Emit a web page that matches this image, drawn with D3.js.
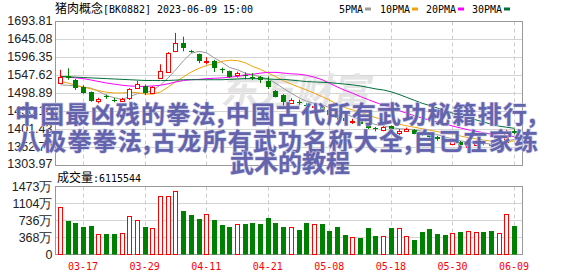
<!DOCTYPE html>
<html><head><meta charset="utf-8">
<script src="https://cdn.jsdelivr.net/npm/d3@7"></script>
<style>
html,body{margin:0;padding:0;background:#fff;}
svg{display:block;}
</style></head>
<body>
<svg id="c" width="578" height="276"></svg>
<script>
// ---------------- DATA ----------------
const dates = ["03-14","03-15","03-16","03-17","03-20","03-21","03-22","03-23","03-24","03-27","03-28","03-29","03-30","03-31",
"04-03","04-04","04-06","04-07","04-10","04-11","04-12","04-13","04-14","04-17","04-18","04-19","04-20","04-21","04-24","04-25","04-26","04-27","04-28",
"05-04","05-05","05-08","05-09","05-10","05-11","05-12","05-15","05-16","05-17","05-18","05-19","05-22","05-23","05-24","05-25","05-26","05-29","05-30","05-31",
"06-01","06-02","06-05","06-06","06-07","06-08","06-09"];
const opens  = [1528,1545,1535,1517,1502,1478,1491,1482,1478,1487,1514,1519,1499,1540,1558,1613,1636,1614,1606,1585,
                1586,1564,1560,1548,1550,1544,1544,1533,1506,1495,1474,1476,1467,1464,1463,1453,1440,1432,1420,1425,
                1416,1405,1400,1410,1392,1398,1400,1390,1386,1381,1376,1362,1368,1354,1360,1366,1362,1358,1368,1396];
const highs  = [1563,1567,1538,1521,1504,1487,1496,1487,1487,1513,1533,1523,1518,1578,1611,1663,1653,1617,1607,1597,
                1590,1569,1561,1558,1556,1554,1546,1545,1508,1497,1486,1482,1472,1472,1465,1455,1444,1436,1430,1428,
                1418,1408,1410,1412,1402,1406,1402,1394,1389,1384,1378,1374,1370,1366,1372,1370,1365,1370,1400,1402];
const lows   = [1525,1536,1508,1498,1476,1472,1484,1475,1476,1481,1511,1495,1497,1538,1556,1611,1613,1609,1581,1578,
                1557,1554,1541,1542,1537,1535,1527,1511,1488,1458,1470,1468,1455,1456,1450,1437,1428,1420,1416,1412,
                1402,1396,1396,1398,1386,1394,1388,1383,1376,1370,1365,1358,1355,1340,1356,1358,1352,1355,1366,1388];
const closes = [1543,1540,1513,1501,1479,1485,1489,1480,1484,1511,1524,1499,1515,1560,1608,1636,1622,1612,1586,1587,
                1568,1562,1544,1553,1545,1543,1536,1515,1490,1475,1481,1474,1465,1466,1454,1440,1432,1424,1425,1415,
                1405,1401,1408,1402,1398,1402,1390,1386,1380,1376,1368,1370,1358,1362,1368,1362,1356,1366,1396,1391];
// volume in 万 (10k)
const volumes = [1018,724,681,595,617,437,444,444,459,825,746,595,566,1276,1276,1369,946,853,767,868,
                 746,638,595,652,660,681,660,789,681,595,595,531,681,652,660,509,595,423,373,358,
                 574,401,394,574,574,394,315,488,552,444,423,459,488,502,480,488,509,459,868,611.55];
const ma5  = [1522,1521,1519,1516,1513,1504,1493,1487,1483,1490,1498,1500,1507,1522,1541,1564,1588,1608,1613,1609,
              1595,1583,1569,1563,1554,1549,1544,1538,1526,1512,1499,1487,1477,1472,1468,1460,1451,1443,1435,1427,
              1420,1414,1411,1406,1403,1402,1400,1396,1391,1387,1380,1376,1370,1367,1365,1364,1361,1363,1370,1374];
const ma10 = [1531,1527,1521,1516,1511,1506,1502,1500,1500,1502,1501,1497,1497,1503,1516,1531,1544,1557,1567,1575,
              1579,1586,1589,1588,1582,1572,1564,1554,1544,1533,1524,1516,1508,1499,1490,1480,1469,1460,1454,1448,
              1440,1433,1427,1421,1415,1411,1407,1403,1399,1395,1391,1388,1383,1379,1376,1372,1369,1367,1368,1370];
const ma20 = [1545,1543,1541,1539,1535,1531,1527,1524,1521,1519,1518,1518,1519,1521,1525,1530,1534,1536,1537,1539,
              1540,1541,1543,1545,1549,1551,1554,1556,1556,1554,1552,1551,1548,1543,1536,1526,1516,1507,1499,1490,
              1482,1474,1467,1460,1452,1445,1438,1432,1426,1421,1416,1410,1405,1400,1396,1392,1388,1385,1383,1382];
const ma30 = [1545,1544,1543,1542,1541,1540,1539,1538,1537,1536,1535,1534,1534,1534,1534,1535,1536,1536,1536,1536,
              1536,1536,1537,1538,1539,1539,1539,1538,1537,1537,1535,1533,1531,1530,1529,1528,1526,1524,1522,1519,
              1515,1511,1508,1503,1496,1488,1480,1472,1466,1459,1452,1445,1439,1433,1427,1421,1415,1410,1407,1404];
const priceTicks = [1693.81,1645.08,1596.35,1547.62,1498.89,1450.16,1401.43,1352.70,1303.97];
const volTicks = [0,368,736,1104,1473];
const dateTicks = ["03-17","03-29","04-11","04-21","05-08","05-18","05-30","06-09"];
const titleCjk = "猪肉概念";
const titleRest = "[BK0882] 2023-06-09 15:00";
const volLabelCjk = "成交量";
const volLabelRest = ":6115544";
const legendNames = ["5PMA","10PMA","20PMA","30PMA"];
const legendColors = ["#9a9a9a","#f0a30a","#ff00ff","#006f3a"];
const overlayLines = ["中国最凶残的拳法,中国古代所有武功秘籍排行,","八极拳拳法,古龙所有武功名称大全,自已在家练","武术的教程"];
const watermark = "东方财富";

// ---------------- LAYOUT ----------------
const svg = d3.select("#c");
const L = 55.5, R = 522.5;
const MT = 21.5, MB = 165.5;
const VT = 186.5, VB = 254.5;
const RED = "#ff0000", GREEN = "#008000";
const MONO = "'DejaVu Sans Mono', monospace";
const CJK = "'Noto Sans CJK SC', sans-serif";
const SANS = "'Liberation Sans', Arial, sans-serif";

const x = d3.scalePoint().domain(dates).range([56.65, 518.35]).padding(0.5);
const y = d3.scaleLinear().domain([1303.97, 1693.81]).range([165.2, 21.6]);
const yv = d3.scaleLinear().domain([0, 1473]).range([254.2, 186.5]);
const crisp = v => Math.floor(v) + 0.5;

// clip
const defs = svg.append("defs");
defs.append("clipPath").attr("id","mainClip").append("rect")
  .attr("x", L).attr("y", MT).attr("width", R-L).attr("height", MB-MT);

// --------- grid ---------
const grid = svg.append("g");
grid.selectAll(".hg").data(priceTicks.slice(1, -1)).join("line")
  .attr("x1", L).attr("x2", R).attr("y1", d => crisp(y(d))).attr("y2", d => crisp(y(d)))
  .attr("stroke", "#d4d4d4").attr("stroke-width", 1);
grid.selectAll(".vhg").data(volTicks.slice(1, -1)).join("line")
  .attr("x1", L).attr("x2", R).attr("y1", d => crisp(yv(d))).attr("y2", d => crisp(yv(d)))
  .attr("stroke", "#d4d4d4").attr("stroke-width", 1);
[[MT, MB], [VT, VB]].forEach(([t, b]) => {
  grid.append("g").selectAll("line").data(dateTicks).join("line")
    .attr("x1", d => crisp(x(d))).attr("x2", d => crisp(x(d)))
    .attr("y1", t).attr("y2", b)
    .attr("stroke", "#cccccc").attr("stroke-dasharray", "4,3");
});

// watermark
svg.append("text").text(watermark)
  .attr("x", 222).attr("y", 104)
  .attr("font-family", CJK).attr("font-weight", 700).attr("font-size", 36)
  .attr("fill", "#e4e4e4").attr("transform", "skewX(-12) translate(20,0)")
  .attr("textLength", 150).attr("lengthAdjust", "spacingAndGlyphs");

// --------- frames ---------
svg.append("rect").attr("x", L).attr("y", MT).attr("width", R-L).attr("height", MB-MT)
  .attr("fill", "none").attr("stroke", "#999");
svg.append("rect").attr("x", L).attr("y", VT).attr("width", R-L).attr("height", VB-VT)
  .attr("fill", "none").attr("stroke", "#999");

// --------- MA lines ---------
const plot = svg.append("g").attr("clip-path", "url(#mainClip)");
const line = d3.line().x((d, i) => x(dates[i])).y(d => y(d));
[ma5, ma10, ma20, ma30].forEach((s, k) => {
  plot.append("path").datum(s).attr("d", line)
    .attr("fill", "none").attr("stroke", legendColors[k]).attr("stroke-width", 1);
});

// --------- candles ---------
const candles = plot.append("g");
dates.forEach((d, i) => {
  const o = opens[i], c = closes[i], h = highs[i], l = lows[i];
  const up = c >= o;
  const left = Math.round(x(d) - 2.5);
  const cxp = left + 2.5;
  const top = Math.round(y(Math.max(o, c)));
  const bot = Math.round(y(Math.min(o, c)));
  const hgt = Math.max(1, bot - top);
  if (up) {
    candles.append("line").attr("x1", cxp).attr("x2", cxp).attr("y1", y(h)).attr("y2", top)
      .attr("stroke", RED);
    candles.append("line").attr("x1", cxp).attr("x2", cxp).attr("y1", top + hgt).attr("y2", y(l))
      .attr("stroke", RED);
    candles.append("rect").attr("x", left + 0.5).attr("y", top + 0.5).attr("width", 4).attr("height", hgt)
      .attr("fill", "#fff").attr("stroke", RED);
  } else {
    candles.append("line").attr("x1", cxp).attr("x2", cxp).attr("y1", y(h)).attr("y2", y(l))
      .attr("stroke", GREEN);
    candles.append("rect").attr("x", left).attr("y", top).attr("width", 5).attr("height", hgt)
      .attr("fill", GREEN);
  }
});

// --------- volume bars ---------
const vb = svg.append("g");
dates.forEach((d, i) => {
  const up = closes[i] >= opens[i];
  const left = Math.round(x(d) - 2.5);
  const top = Math.round(yv(volumes[i]));
  if (up) {
    vb.append("rect").attr("x", left + 0.5).attr("y", top + 0.5).attr("width", 4).attr("height", 254 - top)
      .attr("fill", "#fff").attr("stroke", RED);
  } else {
    vb.append("rect").attr("x", left).attr("y", top).attr("width", 5).attr("height", 254.5 - top)
      .attr("fill", GREEN);
  }
});

// --------- axes ---------
const yAxis = svg.append("g").attr("transform", `translate(${L},0)`)
  .call(d3.axisLeft(y).tickValues(priceTicks).tickFormat(d3.format(".2f")).tickSize(0).tickPadding(3));
yAxis.select(".domain").remove();
yAxis.selectAll("text").attr("font-family", SANS).attr("font-size", 12.5).attr("fill", "#222").attr("dy", "0.3em")
  .attr("transform", "translate(0,-1)");

const vAxis = svg.append("g").attr("transform", `translate(${L},0)`)
  .call(d3.axisLeft(yv).tickValues(volTicks).tickFormat(d => d === 0 ? "0" : d + "万").tickSize(0).tickPadding(3));
vAxis.select(".domain").remove();
vAxis.selectAll("text").attr("font-family", SANS).attr("font-size", 12.5).attr("fill", "#222").attr("dy", "0.35em");

const xAxis = svg.append("g").attr("transform", `translate(0,${VB})`)
  .call(d3.axisBottom(x).tickValues(dateTicks).tickSize(0).tickPadding(0));
xAxis.select(".domain").remove();
xAxis.selectAll("text").attr("font-family", MONO).attr("font-size", 10).attr("fill", RED)
  .attr("dy", null).attr("y", 15).attr("dx", -1);

// --------- title / labels ---------
svg.append("text").text(titleCjk).attr("x", 55).attr("y", 12.5)
  .attr("font-family", CJK).attr("font-size", 12).attr("fill", "#000")
  .attr("textLength", 48).attr("lengthAdjust", "spacingAndGlyphs");
svg.append("text").text(titleRest).attr("x", 103).attr("y", 12.5)
  .attr("font-family", MONO).attr("font-size", 10.5).attr("fill", "#000")
  .attr("textLength", 150).attr("lengthAdjust", "spacingAndGlyphs");

const legendX = [339, 380, 426, 472];
legendNames.forEach((n, k) => {
  svg.append("text").text(n).attr("x", legendX[k]).attr("y", 12.5)
    .attr("font-family", MONO).attr("font-size", 10.5).attr("fill", "#000")
    .attr("textLength", n.length * 6).attr("lengthAdjust", "spacingAndGlyphs");
  svg.append("rect").attr("x", legendX[k] + n.length * 6 + 2).attr("y", 7.5).attr("width", 6).attr("height", 3)
    .attr("fill", legendColors[k]);
});

svg.append("text").text(volLabelCjk).attr("x", 57).attr("y", 182)
  .attr("font-family", CJK).attr("font-size", 12).attr("fill", "#000")
  .attr("textLength", 36).attr("lengthAdjust", "spacingAndGlyphs");
svg.append("text").text(volLabelRest).attr("x", 93).attr("y", 182)
  .attr("font-family", MONO).attr("font-size", 10.5).attr("fill", "#000")
  .attr("textLength", 48).attr("lengthAdjust", "spacingAndGlyphs");

// --------- overlay text ---------
const ov = svg.append("g").attr("font-family", CJK).attr("font-weight", 700).attr("font-size", 24)
  .attr("fill", "#6464ac").attr("stroke", "#c9c9e6").attr("stroke-width", 1.2).attr("paint-order", "stroke");
ov.append("text").text(overlayLines[0]).attr("x", 15).attr("y", 123)
  .attr("textLength", 521).attr("lengthAdjust", "spacing");
ov.append("text").text(overlayLines[1]).attr("x", 17).attr("y", 149.5)
  .attr("textLength", 521).attr("lengthAdjust", "spacing");
ov.append("text").text(overlayLines[2]).attr("x", 290).attr("y", 172)
  .attr("text-anchor", "middle");
</script>
</body></html>
